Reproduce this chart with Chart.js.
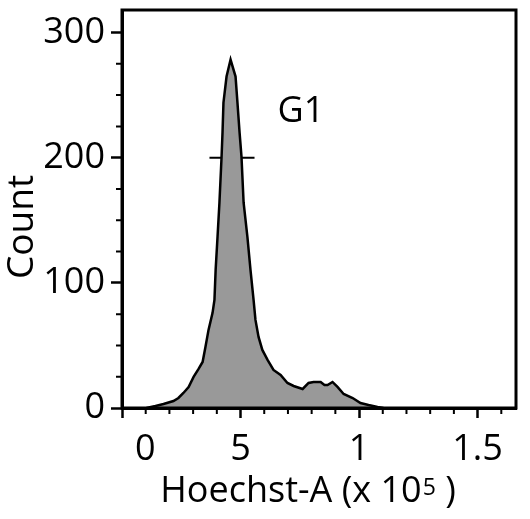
<!DOCTYPE html>
<html>
<head>
<meta charset="utf-8">
<script src="https://cdn.jsdelivr.net/npm/chart.js@4.4.1/dist/chart.umd.min.js"></script>
<style>
  html, body { margin: 0; padding: 0; background: #fff; }
  #wrap { width: 530px; height: 519px; }
</style>
</head>
<body>
<div id="wrap"><canvas id="histChart" width="530" height="519"></canvas></div>
<script>
// Histogram outline: Hoechst-A (x 10^5) vs count
const HIST_X = [0.103, 0.141, 0.175, 0.217, 0.238, 0.259, 0.281, 0.302, 0.323, 0.340,
  0.352, 0.365, 0.382, 0.390, 0.395, 0.403, 0.411, 0.420, 0.424, 0.428,
  0.441, 0.458, 0.479, 0.487, 0.496, 0.504, 0.513, 0.529, 0.542, 0.555,
  0.563, 0.576, 0.592, 0.614, 0.639, 0.669, 0.698, 0.724, 0.762, 0.787,
  0.808, 0.838, 0.854, 0.867, 0.888, 0.909, 0.935, 0.973, 1.006, 1.040,
  1.078, 1.103];
const HIST_Y = [0, 1.6, 3.2, 5.6, 8.0, 12.0, 16.8, 24.8, 31.2, 36.8,
  48.8, 62.4, 76.0, 86.4, 110.4, 136.8, 164.0, 200.8, 220.0, 244.0,
  264.8, 278.4, 264.8, 244.0, 220.0, 200.8, 164.0, 136.8, 110.4, 86.4,
  70.4, 56.8, 46.4, 38.4, 30.4, 26.4, 20.0, 17.6, 15.2, 20.0,
  20.8, 20.8, 18.4, 18.4, 20.8, 16.8, 11.2, 8.0, 4.0, 2.4,
  0.8, 0];

// G1 gate
const GATE_X = [0.369, 0.559];
const GATE_Y = 200;
const GATE_LABEL = "G1";
const GATE_LABEL_POS = [0.656, 237];

// Axes
const X_TICKS = [0, 0.5, 1, 1.5];
const X_TICK_LABELS = ["0", "5", "1", "1.5"];
const X_MINOR = [0.1, 0.2, 0.3, 0.4, 0.6, 0.7, 0.8, 0.9, 1.1, 1.2, 1.3, 1.4, 1.6];
const Y_TICKS = [0, 100, 200, 300];
const Y_TICK_LABELS = ["0", "100", "200", "300"];
const Y_MINOR = [25, 50, 75, 125, 150, 175, 225, 250, 275];
const X_TITLE = ["Hoechst-A (x 10", "5", " )"];
const Y_TITLE = "Count";

const FONT = "'Open Sans'";

// frame, minor ticks, gate label and axis titles
const decorations = {
  id: "decorations",
  afterDraw(chart) {
    const { ctx, chartArea: a, scales: { x, y } } = chart;
    ctx.save();
    ctx.strokeStyle = "#000";
    ctx.lineWidth = 3;
    ctx.strokeRect(a.left, a.top, a.right - a.left, a.bottom - a.top);

    ctx.lineWidth = 2;
    ctx.beginPath();
    X_MINOR.forEach(v => {
      const px = x.getPixelForValue(v);
      ctx.moveTo(px, a.bottom);
      ctx.lineTo(px, a.bottom + 6);
    });
    Y_MINOR.forEach(v => {
      const py = y.getPixelForValue(v);
      ctx.moveTo(a.left, py);
      ctx.lineTo(a.left - 6, py);
    });
    ctx.stroke();

    ctx.fillStyle = "#000";
    ctx.font = `36px ${FONT}`;
    ctx.textAlign = "left";
    ctx.textBaseline = "middle";
    ctx.fillText(GATE_LABEL, x.getPixelForValue(GATE_LABEL_POS[0]), y.getPixelForValue(GATE_LABEL_POS[1]));

    // x title with superscript
    ctx.textBaseline = "alphabetic";
    const big = `36px ${FONT}`, small = `23px ${FONT}`;
    ctx.font = big;
    const w1 = ctx.measureText(X_TITLE[0]).width;
    const w3 = ctx.measureText(X_TITLE[2]).width;
    ctx.font = small;
    const w2 = ctx.measureText(X_TITLE[1]).width;
    let tx = 307.5 - (w1 + w2 + w3) / 2;
    ctx.font = big;
    ctx.fillText(X_TITLE[0], tx, 502);
    tx += w1;
    ctx.font = small;
    ctx.fillText(X_TITLE[1], tx + 1, 495);
    tx += w2 + 1;
    ctx.font = big;
    ctx.fillText(X_TITLE[2], tx, 502);

    // y title
    ctx.translate(22, 227);
    ctx.rotate(-Math.PI / 2);
    ctx.textAlign = "center";
    ctx.textBaseline = "middle";
    ctx.font = `37px ${FONT}`;
    ctx.fillText(Y_TITLE, 0, 0);
    ctx.restore();
  }
};

new Chart(document.getElementById("histChart"), {
  type: "line",
  data: {
    datasets: [
      {
        label: "Hoechst",
        data: HIST_X.map((v, i) => ({ x: v, y: HIST_Y[i] })),
        borderColor: "#000",
        borderWidth: 2.5,
        backgroundColor: "#999999",
        fill: "origin",
        pointRadius: 0,
        tension: 0
      },
      {
        label: GATE_LABEL,
        data: GATE_X.map(v => ({ x: v, y: GATE_Y })),
        borderColor: "#000",
        borderWidth: 2,
        fill: false,
        pointRadius: 0
      }
    ]
  },
  plugins: [decorations],
  options: {
    responsive: false,
    animation: false,
    layout: { padding: { left: 0, top: 10, right: 14, bottom: 0 } },
    plugins: { legend: { display: false }, tooltip: { enabled: false } },
    scales: {
      x: {
        type: "linear",
        min: 0,
        max: 1.662,
        afterBuildTicks: s => { s.ticks = X_TICKS.map(v => ({ value: v })); },
        afterFit: s => { s.height = 111; s.paddingLeft = 0; s.paddingRight = 0; },
        ticks: {
          autoSkip: false,
          maxRotation: 0,
          padding: 10,
          color: "#000",
          font: { family: FONT, size: 36 },
          callback: (v, i) => i === 0 ? X_TICK_LABELS[i].padStart(6, " ") : X_TICK_LABELS[i]
        },
        grid: { drawOnChartArea: false, tickLength: 10, tickWidth: 2.5, tickColor: "#000" },
        border: { display: true, width: 3, color: "#000" }
      },
      y: {
        min: 0,
        max: 318,
        afterBuildTicks: s => { s.ticks = Y_TICKS.map(v => ({ value: v })); },
        afterFit: s => { s.width = 122; s.paddingTop = 0; s.paddingBottom = 0; },
        ticks: {
          padding: 6,
          color: "#000",
          font: { family: FONT, size: 36 },
          callback: (v, i) => Y_TICK_LABELS[i]
        },
        grid: { drawOnChartArea: false, tickLength: 11, tickWidth: 2.5, tickColor: "#000" },
        border: { display: true, width: 3, color: "#000" }
      }
    }
  }
});
</script>
</body>
</html>
